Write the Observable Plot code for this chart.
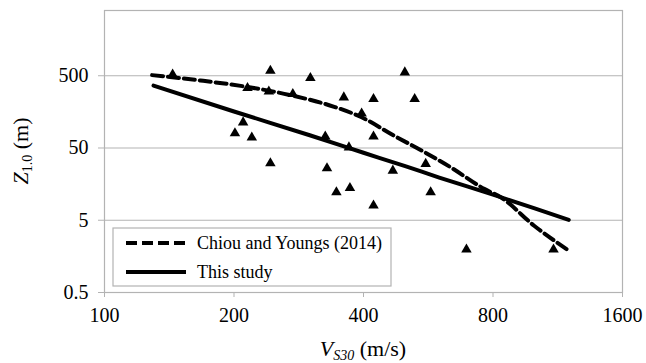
<!DOCTYPE html>
<html>
<head>
<meta charset="utf-8">
<script src="https://cdn.jsdelivr.net/npm/d3@7"></script>
<script src="https://cdn.jsdelivr.net/npm/@observablehq/plot@0.6"></script>
<style>
  body { margin: 0; background: #fff; }
  svg { display: block; }
  #chart svg text, #chart svg tspan { font-family: "Liberation Serif", "Times New Roman", serif; }
</style>
</head>
<body>
<div id="chart"></div>
<script>
// Observed sites: shear-wave velocity Vs30 (m/s) and depth to 1.0 km/s layer Z1.0 (m)
const siteVs30 = [144, 215, 243, 241, 274, 301, 360, 422, 499, 526, 396, 210, 201, 220,
                  326, 422, 370, 243, 329, 468, 558, 346, 372, 422, 573, 694, 1106];
const siteZ10  = [520, 338, 586, 303, 279, 465, 251, 238, 556, 238, 150, 113, 80, 70,
                  72, 72, 51, 30.7, 26.2, 24.3, 30.1, 12.2, 14.0, 8.0, 12.2, 1.97, 1.97];

// Chiou and Youngs (2014) Z1.0 model curve
const cyVs30 = [129, 167, 215, 274, 342, 396, 471, 550, 638, 763, 834, 997, 1200];
const cyZ10  = [510, 430, 350, 265, 186, 133, 74, 45, 27, 13.6, 10.4, 4.2, 1.9];

// Relation proposed in this study
const fitVs30 = [130, 200, 300, 400, 500, 600, 800, 1000, 1200];
const fitZ10  = [365, 160, 75, 43, 28, 19.5, 11.3, 7.3, 5.05];

const xTicks = [100, 200, 400, 800, 1600];
const yTicks = [0.5, 5, 50, 500];
const seriesNames = ["Chiou and Youngs (2014)", "This study"];

const sites = siteVs30.map((v, i) => ({v, z: siteZ10[i]}));
const cy = cyVs30.map((v, i) => ({v, z: cyZ10[i]}));
const fit = fitVs30.map((v, i) => ({v, z: fitZ10[i]}));

const W = 646, H = 363;
const mL = 104, mR = 24, mT = 10, mB = 71;
const grey = "#b3b3b3";
const serif = "'Liberation Serif', 'Times New Roman', serif";

const chart = Plot.plot({
  width: W, height: H,
  marginLeft: mL, marginRight: mR, marginTop: mT, marginBottom: mB,
  style: {fontFamily: serif, fontSize: "20px", color: "#000", background: "#fff", overflow: "visible"},
  x: {type: "log", domain: [100, 1600]},
  y: {type: "log", domain: [0.5, 4000]},
  marks: [
    Plot.gridY(yTicks, {stroke: grey, strokeOpacity: 1, strokeWidth: 1.2}),
    Plot.frame({stroke: grey, strokeWidth: 1.2}),
    // outward tick marks (labels drawn separately below)
    Plot.axisX(xTicks, {tickSize: 5, stroke: grey, label: null, tickFormat: () => ""}),
    Plot.axisY(yTicks, {tickSize: 6, stroke: grey, label: null, tickFormat: () => ""}),
    Plot.text(xTicks, {x: d => d, frameAnchor: "bottom", dy: 15, lineAnchor: "top",
                       text: d => String(d), fill: "#000", fontSize: 20, fontFamily: serif}),
    Plot.text(yTicks, {y: d => d, frameAnchor: "left", dx: -16, textAnchor: "end",
                       text: d => String(d), fill: "#000", fontSize: 20, fontFamily: serif}),
    Plot.line(fit, {x: "v", y: "z", stroke: "#000", strokeWidth: 4, curve: "monotone-x"}),
    Plot.line(cy, {x: "v", y: "z", stroke: "#000", strokeWidth: 4, curve: "monotone-x",
                   strokeDasharray: "11,5"}),
    Plot.dot(sites, {x: "v", y: "z", symbol: "triangle", r: 3.9, fill: "#000", stroke: "none"})
  ]
});

document.getElementById("chart").appendChild(chart);

const svg = d3.select(chart);

// Axis titles with italic symbols and subscripts
const xTitle = svg.append("text")
  .attr("x", (mL + W - mR) / 2).attr("y", 356)
  .attr("text-anchor", "middle").attr("font-family", serif).attr("font-size", 22).attr("fill", "#000");
xTitle.append("tspan").attr("font-style", "italic").text("V");
xTitle.append("tspan").attr("font-style", "italic").attr("font-size", 14).attr("dy", 4).text("S30");
xTitle.append("tspan").attr("dy", -4).text(" (m/s)");

const yTitle = svg.append("text")
  .attr("transform", `translate(28,${(mT + H - mB) / 2}) rotate(-90)`)
  .attr("text-anchor", "middle").attr("font-family", serif).attr("font-size", 22).attr("fill", "#000");
yTitle.append("tspan").attr("font-style", "italic").text("Z");
yTitle.append("tspan").attr("font-size", 14).attr("dy", 4).text("1.0");
yTitle.append("tspan").attr("dy", -4).text(" (m)");

// Legend box
const lg = svg.append("g").attr("font-family", serif).attr("font-size", 18).attr("text-anchor", "start");
lg.append("rect").attr("x", 113).attr("y", 228).attr("width", 278).attr("height", 58)
  .attr("fill", "#fff").attr("stroke", grey).attr("stroke-width", 1.2);
[{y: 243, dash: "11,5"}, {y: 272, dash: null}].forEach((e, i) => {
  const l = lg.append("line").attr("x1", 126).attr("x2", 186).attr("y1", e.y).attr("y2", e.y)
    .attr("stroke", "#000").attr("stroke-width", 4);
  if (e.dash) l.attr("stroke-dasharray", e.dash);
  lg.append("text").attr("x", 197).attr("y", e.y + 6).attr("fill", "#000").text(seriesNames[i]);
});
</script>
</body>
</html>
